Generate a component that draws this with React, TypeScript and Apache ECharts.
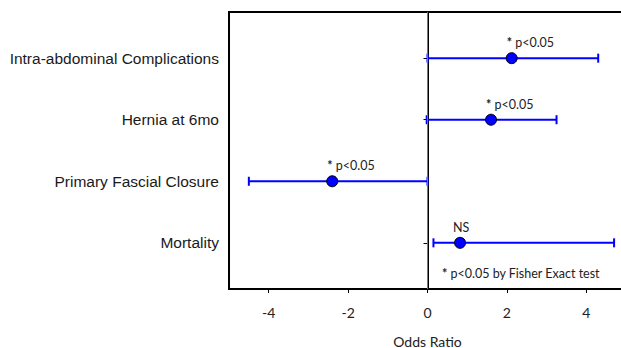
import React, { useEffect, useRef } from "react";
import * as echarts from "echarts";

const categories = [
  "Intra-abdominal Complications",
  "Hernia at 6mo",
  "Primary Fascial Closure",
  "Mortality",
];
const estimates = [2.12, 1.6, -2.4, 0.82];
const lowerCI = [0.0, -0.02, -4.5, 0.15];
const upperCI = [4.3, 3.25, 0.0, 4.7];
const significance = ["* p<0.05", "* p<0.05", "* p<0.05", "NS"];
const xTicks = [-4, -2, 0, 2, 4];
const footnote = "* p<0.05 by Fisher Exact test";

const labelFont = "Liberation Sans, Arial, sans-serif";
const noteFont = "Lato, 'Open Sans', sans-serif";

export default function App() {
  const ref = useRef<HTMLDivElement>(null);
  useEffect(() => {
    if (!ref.current) return;
    const chart = echarts.init(ref.current, undefined, { renderer: "svg" });
    const yPos = (i: number) => i + 1;
    const option: any = {
      animation: false,
      backgroundColor: "#ffffff",
      grid: {
        left: 229,
        top: 12,
        right: 4,
        bottom: 59,
        show: true,
        borderColor: "#000",
        borderWidth: 2,
        containLabel: false,
        outerBoundsMode: "none",
      },
      xAxis: {
        type: "value",
        min: -5,
        max: 5,
        name: "Odds Ratio",
        nameLocation: "middle",
        nameGap: 45,
        nameTextStyle: { fontFamily: noteFont, fontSize: 14, color: "#222" },
        axisLine: { show: true, lineStyle: { color: "#000", width: 2 } },
        axisTick: { show: true, length: 4, customValues: xTicks, lineStyle: { color: "#000", width: 1 } },
        axisLabel: {
          customValues: xTicks,
          margin: 16,
          fontFamily: noteFont,
          fontSize: 14,
          color: "#222",
        },
        splitLine: { show: false },
      },
      yAxis: {
        type: "value",
        inverse: true,
        min: 0.25,
        max: 4.75,
        axisLine: { show: true, lineStyle: { color: "#000", width: 2 } },
        axisTick: {
          show: true,
          length: 4,
          customValues: categories.map((_, i) => yPos(i)),
          lineStyle: { color: "#000", width: 1 },
        },
        axisLabel: {
          customValues: categories.map((_, i) => yPos(i)),
          formatter: (v: number) => categories[Math.round(v) - 1] ?? "",
          margin: 10,
          fontFamily: labelFont,
          fontSize: 15.5,
          color: "#1a1a1a",
        },
        splitLine: { show: false },
      },
      series: [
        {
          type: "custom",
          z: 2,
          data: categories.map((_, i) => [lowerCI[i], upperCI[i], yPos(i)]),
          renderItem: (params: any, api: any) => {
            const lo = api.coord([api.value(0), api.value(2)]);
            const hi = api.coord([api.value(1), api.value(2)]);
            const h = 4.5;
            const style = { stroke: "#0000ff", lineWidth: 2 };
            return {
              type: "group",
              children: [
                { type: "line", shape: { x1: lo[0], y1: lo[1], x2: hi[0], y2: hi[1] }, style },
                { type: "line", shape: { x1: lo[0], y1: lo[1] - h, x2: lo[0], y2: lo[1] + h }, style },
                { type: "line", shape: { x1: hi[0], y1: hi[1] - h, x2: hi[0], y2: hi[1] + h }, style },
              ],
            };
          },
        },
        {
          type: "scatter",
          z: 3,
          symbol: "circle",
          symbolSize: 11,
          itemStyle: { color: "#0000ff", borderColor: "#000", borderWidth: 1, opacity: 1 },
          data: categories.map((_, i) => ({
            value: [estimates[i], yPos(i)],
            label: {
              show: true,
              position: "top",
              distance: 3,
              align: significance[i] === "NS" ? "center" : "left",
              offset: significance[i] === "NS" ? [1, 0] : [-5, 0],
              formatter: significance[i].startsWith("*")
                ? "{b|*} " + significance[i].slice(2)
                : significance[i],
              fontFamily: noteFont,
              fontSize: 12.5,
              color: "#222",
              rich: {
                b: { fontFamily: noteFont, fontSize: 12.5, fontWeight: "bold", color: "#222" },
              },
            },
          })),
          markLine: {
            silent: true,
            symbol: "none",
            label: { show: false },
            emphasis: { disabled: true },
            lineStyle: { color: "#777", width: 1, type: "solid" },
            data: [{ xAxis: 0 }],
          },
        },
      ],
      graphic: [
        {
          type: "text",
          left: 442,
          top: 267,
          style: {
            text: "{b|*} " + footnote.slice(2),
            fontFamily: noteFont,
            fontSize: 12.5,
            fill: "#222",
            rich: {
              b: { fontFamily: noteFont, fontSize: 12.5, fontWeight: "bold", fill: "#222" },
            },
          },
        },
      ],
    };
    chart.setOption(option);
    return () => chart.dispose();
  }, []);
  return (
    <div
      ref={ref}
      style={{ position: "fixed", left: 0, top: 0, width: 630, height: 348, background: "#fff" }}
    />
  );
}
